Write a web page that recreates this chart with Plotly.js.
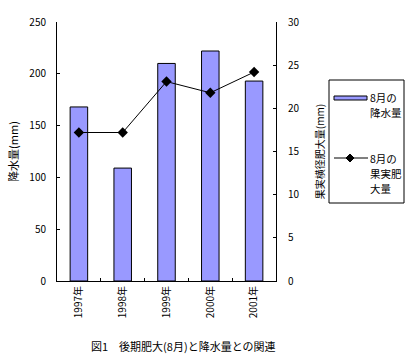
<!DOCTYPE html>
<html>
<head>
<meta charset="utf-8">
<script src="https://cdn.plot.ly/plotly-3.0.1.min.js"></script>
<style>html,body{margin:0;padding:0;background:#fff;}#chart{width:414px;height:355px;}</style>
</head>
<body>
<div id="chart"></div>
<script>
const years = ["1997年", "1998年", "1999年", "2000年", "2001年"];
const rainfall = [168, 109, 210, 222, 193];
const fruitGrowth = [17.2, 17.2, 23.1, 21.8, 24.2];
const rainNameLines = ["8月の", "降水量"];
const growthNameLines = ["8月の", "果実肥", "大量"];
const caption = "図1　後期肥大(8月)と降水量との関連";

const font = "'Noto Sans CJK JP', 'Noto Sans', sans-serif";
const barColor = "#9999ff";

// plot area in pixels (for converting legend layout positions to paper coords)
const L = 57, R = 276, T = 22, B = 281;
const px = v => (v - L) / (R - L);
const py = v => (B - v) / (B - T);

const data = [
  {
    type: "bar", x: years, y: rainfall, name: rainNameLines.join(""),
    marker: {color: barColor, line: {color: "#000", width: 1}},
    yaxis: "y", showlegend: false
  },
  {
    type: "scatter", mode: "lines+markers", x: years, y: fruitGrowth, name: growthNameLines.join(""),
    line: {color: "#000", width: 1},
    marker: {symbol: "diamond", size: 8, color: "#000"},
    yaxis: "y2", showlegend: false
  }
];

// legend drawn by hand
const dx = 4 / (R - L), dy = 4 / (B - T);
const barY = 98, lineY = 158, lineGap = 15, textX = 369;
const shapes = [
  {type: "rect", xref: "paper", yref: "paper", x0: px(329), x1: px(404), y0: py(203), y1: py(80),
   line: {color: "#000", width: 1}, fillcolor: "rgba(0,0,0,0)"},
  {type: "rect", xref: "paper", yref: "paper", x0: px(334), x1: px(367), y0: py(barY + 2), y1: py(barY - 2),
   line: {color: "#000", width: 1}, fillcolor: barColor},
  {type: "line", xref: "paper", yref: "paper", x0: px(334), x1: px(368), y0: py(lineY), y1: py(lineY),
   line: {color: "#000", width: 1}},
  {type: "path", xref: "paper", yref: "paper",
   path: `M ${px(350)-dx} ${py(lineY)} L ${px(350)} ${py(lineY)+dy} L ${px(350)+dx} ${py(lineY)} L ${px(350)} ${py(lineY)-dy} Z`,
   line: {color: "#000", width: 1}, fillcolor: "#000"}
];

const annotations = [];
rainNameLines.forEach((t, i) => annotations.push(
  {text: t, xref: "paper", yref: "paper", x: px(textX), y: py(barY + i * lineGap),
   xanchor: "left", yanchor: "middle", showarrow: false, borderpad: 0, font: {size: 10.5}}));
growthNameLines.forEach((t, i) => annotations.push(
  {text: t, xref: "paper", yref: "paper", x: px(textX), y: py(lineY + i * lineGap),
   xanchor: "left", yanchor: "middle", showarrow: false, borderpad: 0, font: {size: 10.5}}));
annotations.push(
  {text: caption, xref: "paper", yref: "paper", x: px(183), y: 0, yshift: -65,
   xanchor: "center", yanchor: "middle", showarrow: false, font: {size: 11}});

const layout = {
  width: 414, height: 355,
  margin: {l: L, r: 414 - R, t: T, b: 355 - B},
  paper_bgcolor: "#fff", plot_bgcolor: "#fff",
  font: {family: font, size: 10, color: "#000"},
  bargap: 0.6,
  showlegend: false,
  xaxis: {
    type: "category", tickangle: -90, showline: true, linecolor: "#000", linewidth: 1,
    ticks: "inside", tickson: "boundaries", ticklen: 3, tickcolor: "#000",
    showgrid: false, tickfont: {size: 10}
  },
  yaxis: {
    range: [0, 250], dtick: 50, showline: true, linecolor: "#000", linewidth: 1,
    ticks: "inside", ticklen: 3, tickcolor: "#000", showgrid: false, zeroline: false,
    ticklabelstandoff: 8,
    title: {text: "降水量(mm)", font: {size: 11}, standoff: 8}
  },
  yaxis2: {
    range: [0, 30], dtick: 5, overlaying: "y", side: "right",
    showline: true, linecolor: "#000", linewidth: 1,
    ticks: "inside", ticklen: 3, tickcolor: "#000", showgrid: false, zeroline: false,
    ticklabelstandoff: 9,
    title: {text: "果実横径肥大量(mm)", font: {size: 10}, standoff: 18}
  },
  shapes: shapes,
  annotations: annotations
};

Plotly.newPlot("chart", data, layout, {staticPlot: true, displayModeBar: false});
</script>
</body>
</html>
